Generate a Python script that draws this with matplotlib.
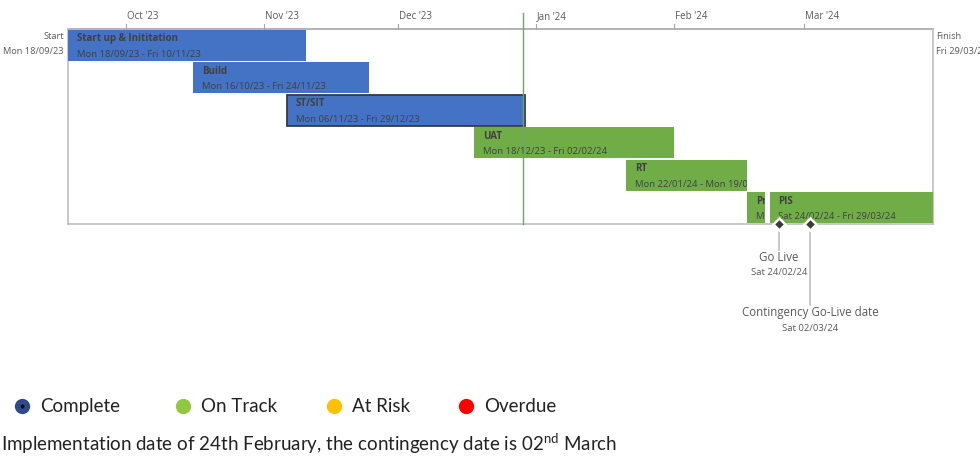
import matplotlib
matplotlib.use("Agg")
import matplotlib.pyplot as plt
import matplotlib.dates as mdates
from matplotlib.patches import Rectangle
import pandas as pd

# ---------------- data ----------------
axis_start = "2023-09-18"
axis_end = "2024-03-30"
start_label = ["Start", "Mon 18/09/23"]
finish_label = ["Finish", "Fri 29/03/24"]

task_names = ["Start up & Inititation", "Build", "ST/SIT", "UAT", "RT", "Pr", "PIS"]
task_date_text = ["Mon 18/09/23 - Fri 10/11/23", "Mon 16/10/23 - Fri 24/11/23",
                  "Mon 06/11/23 - Fri 29/12/23", "Mon 18/12/23 - Fri 02/02/24",
                  "Mon 22/01/24 - Mon 19/02/24", "Mon 19/02/24 - Fri 23/02/24",
                  "Sat 24/02/24 - Fri 29/03/24"]
task_starts = ["2023-09-18", "2023-10-16", "2023-11-06 02:00", "2023-12-18",
               "2024-01-21 02:00", "2024-02-17 08:00", "2024-02-22 08:00"]
task_ends = ["2023-11-10 10:00", "2023-11-24 14:00", "2023-12-29 14:00", "2024-02-01",
             "2024-02-17 08:00", "2024-02-21 08:00", "2024-03-30"]
task_rows = [0, 1, 2, 3, 4, 5, 5]
task_status = ["complete", "complete", "complete", "ontrack", "ontrack", "ontrack", "ontrack"]

month_ticks = ["2023-10-01", "2023-11-01", "2023-12-01", "2024-01-01", "2024-02-01", "2024-03-01"]
month_labels = ["Oct '23", "Nov '23", "Dec '23", "Jan '24", "Feb '24", "Mar '24"]
today = "2023-12-29"

milestone_names = ["Go Live", "Contingency Go-Live date"]
milestone_dates_text = ["Sat 24/02/24", "Sat 02/03/24"]
milestone_dates = ["2024-02-24 12:00", "2024-03-02 10:00"]
milestone_label_offset = [1.0, 2.7]   # in row units below the axis

legend_labels = ["Complete", "On Track", "At Risk", "Overdue"]
legend_colors = ["#2E4A8C", "#92C83E", "#FFC000", "#FF0000"]
footer = r"Implementation date of 24th February, the contingency date is 02$^{\mathregular{nd}}$ March"

# ---------------- style ----------------
status_color = {"complete": "#4472C4", "ontrack": "#70AD47"}
text_col = "#404040"
gray = "#BFBFBF"
cfont = "Open Sans"

fig = plt.figure(figsize=(9.8, 4.65), dpi=100)
ax = fig.add_axes([68 / 980, 1 - 224 / 465, 865 / 980, 195 / 465])

x0 = mdates.date2num(pd.Timestamp(axis_start))
x1 = mdates.date2num(pd.Timestamp(axis_end))
nrows = 6
ax.set_xlim(x0, x1)
ax.set_ylim(nrows, 0)
ax.axis("off")

# frame
ax.plot([x0, x1], [0, 0], color="#A6A6A6", lw=1.2, clip_on=False, zorder=1)
ax.plot([x0, x0], [0, nrows], color=gray, lw=1.2, clip_on=False, zorder=1)
ax.plot([x1, x1], [0, nrows], color=gray, lw=1.2, clip_on=False, zorder=1)
ax.plot([x0, x1], [nrows, nrows], color=gray, lw=1.2, clip_on=False, zorder=1)

# month ticks
for d, lab in zip(month_ticks, month_labels):
    xd = mdates.date2num(pd.Timestamp(d))
    ax.plot([xd, xd], [0, -0.15], color="#A6A6A6", lw=0.8, clip_on=False)
    ax.text(xd + 0.2, -0.22, lab, fontsize=7, color="#595959", family=cfont,
            ha="left", va="bottom")

# today line
td = mdates.date2num(pd.Timestamp(today))
ax.plot([td, td], [-0.5, nrows], color="#6AA86A", lw=1.0, clip_on=False, zorder=4)

# start / finish labels
ax.text(x0 - 0.9, 0.22, start_label[0], fontsize=6.7, color="#595959", family=cfont, ha="right", va="center")
ax.text(x0 - 0.9, 0.68, start_label[1], fontsize=6.7, color="#595959", family=cfont, ha="right", va="center")
ax.text(x1 + 0.7, 0.22, finish_label[0], fontsize=6.7, color="#595959", family=cfont, ha="left", va="center")
ax.text(x1 + 0.7, 0.68, finish_label[1], fontsize=6.7, color="#595959", family=cfont, ha="left", va="center")

# bars
for name, dtext, s, e, r, st in zip(task_names, task_date_text, task_starts, task_ends, task_rows, task_status):
    xs = mdates.date2num(pd.Timestamp(s))
    xe = mdates.date2num(pd.Timestamp(e))
    edge = "#3A3A3A" if name == "ST/SIT" else "none"
    lw = 1.3 if name == "ST/SIT" else 0
    rect = Rectangle((xs, r + 0.02), xe - xs, 0.96, facecolor=status_color[st],
                     edgecolor=edge, lw=lw, zorder=3, clip_on=False)
    ax.add_patch(rect)
    t1 = ax.text(xs + 2.0, r + 0.30, name, fontsize=7, fontweight="bold", color=text_col,
                 family=cfont, ha="left", va="center", zorder=5, clip_on=True)
    t1.set_clip_path(rect)
    t2 = ax.text(xs + 2.0, r + 0.78, dtext, fontsize=6.8, color=text_col,
                 family=cfont, ha="left", va="center", zorder=5, clip_on=True)
    t2.set_clip_path(rect)

# milestones
for name, dtext, d, off in zip(milestone_names, milestone_dates_text, milestone_dates, milestone_label_offset):
    xm = mdates.date2num(pd.Timestamp(d))
    ax.plot([xm, xm], [nrows + 0.25, nrows + off - 0.2], color=gray, lw=1.2, clip_on=False, zorder=2)
    ax.plot([xm], [nrows], marker="D", markersize=6, color="#3A3A3A",
            markeredgecolor="white", markeredgewidth=1.8, clip_on=False, zorder=6)
    ax.text(xm, nrows + off + 0.02, name, fontsize=8.3, color="#595959", family=cfont,
            ha="center", va="center")
    ax.text(xm, nrows + off + 0.5, dtext, fontsize=6.8, color="#595959", family=cfont,
            ha="center", va="center")

# legend and footer (overlay axes in pixel coordinates)
ov = fig.add_axes([0, 0, 1, 1], facecolor="none")
ov.set_xlim(0, 980)
ov.set_ylim(465, 0)
ov.axis("off")
leg_x = [22, 183, 334, 466]
for lx, lab, col in zip(leg_x, legend_labels, legend_colors):
    ov.plot([lx], [406], marker="o", markersize=11, color=col, markeredgewidth=0)
    ov.text(lx + 18, 406, lab, fontsize=13.5, color="#222222", family="Lato",
            ha="left", va="center")
ov.plot([22], [406], marker="o", markersize=2.8, color="black", markeredgewidth=0)

ov.text(1, 444, footer, fontsize=13.5, color="#222222", family="Lato",
        ha="left", va="center")

fig.savefig("out.png", dpi=100)
